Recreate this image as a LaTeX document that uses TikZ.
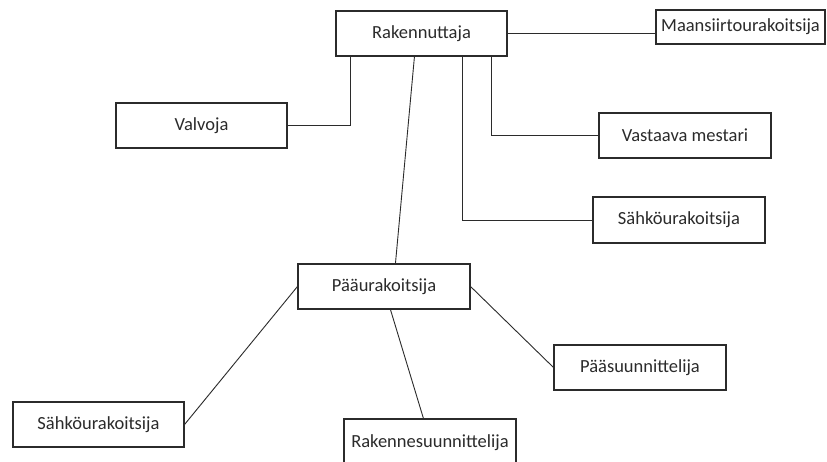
\documentclass[tikz,border=0pt]{standalone}
\usepackage{fontspec}
\setmainfont{Carlito}
\usetikzlibrary{calc}
\definecolor{ink}{HTML}{2B2B2B}
\begin{document}
\begin{tikzpicture}[x=1pt,y=-1pt,
  box/.style={draw=ink,line width=1.1pt,minimum width=171pt,minimum height=45pt,inner sep=0pt,
    font=\fontsize{18.5}{20}\selectfont,text=ink},
  conn/.style={draw=ink,line width=0.9pt}]
\useasboundingbox[fill=white] (0,0) rectangle (827,461);
\node[box] (rak) at (421.5,33.5) {Rakennuttaja};
\node[box,minimum width=169pt,minimum height=34pt] (maa) at (740.5,27) {Maansiirtourakoitsija};
\node[box] (val) at (201.5,125.5) {Valvoja};
\node[box,minimum width=172pt] (vas) at (685,135.5) {Vastaava mestari};
\node[box,minimum width=172pt,minimum height=46pt] (sah1) at (679,220) {Sähköurakoitsija};
\node[box,minimum width=172pt] (paa) at (384,286.5) {Pääurakoitsija};
\node[box,minimum width=172pt] (pas) at (640,367.5) {Pääsuunnittelija};
\node[box,minimum width=172pt,minimum height=48pt] (rks) at (430,443) {Rakennesuunnittelija};
\node[box] (sah2) at (98.5,424.5) {Sähköurakoitsija};
\draw[conn] (rak.east) -- (rak.east -| maa.west);
\draw[conn] (val.east) -| ($(rak.south west)+(15,0)$);
\draw[conn] ($(rak.south west)+(156,0)$) |- (vas.west);
\draw[conn] ($(rak.south west)+(127,0)$) |- (sah1.west);
\draw[conn] ($(rak.south west)+(79,0)$) -- ($(paa.north west)+(98,0)$);
\draw[conn] (paa.east) -- ($(pas.north west)+(0,23)$);
\draw[conn] ($(paa.south west)+(93,0)$) -- ($(rks.north west)+(80,0)$);
\draw[conn] (sah2.east) -- (paa.west);
\end{tikzpicture}
\end{document}
